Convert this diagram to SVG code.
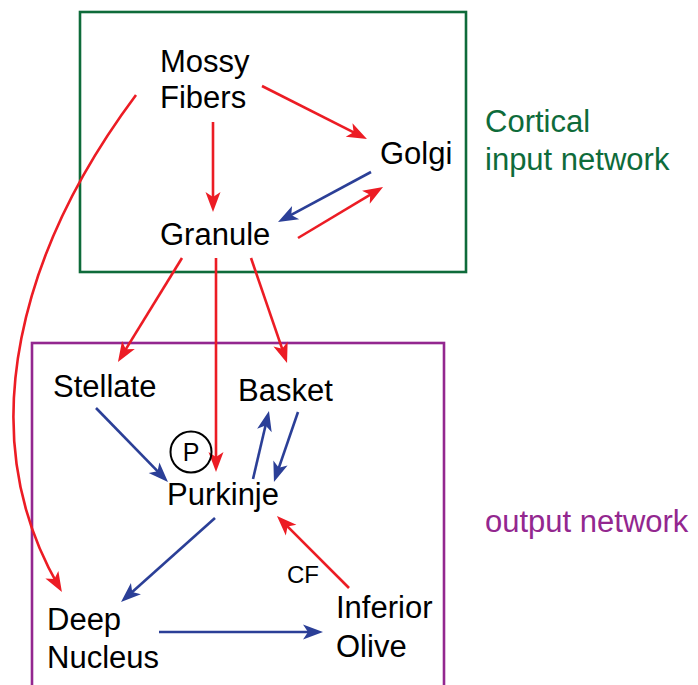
<svg xmlns="http://www.w3.org/2000/svg" width="698" height="685" viewBox="0 0 698 685">
<style>
.t{font-family:"Liberation Sans",Arial,sans-serif;font-size:31px;fill:#000}
.r{stroke:#ec1c24;stroke-width:2.6;fill:none;marker-end:url(#ar)}
.b{stroke:#2b3f97;stroke-width:2.6;fill:none;marker-end:url(#ab)}
</style>
<defs>
<marker id="ar" markerUnits="userSpaceOnUse" markerWidth="30" markerHeight="20" viewBox="-22 -10 30 20" refX="0" refY="0" orient="auto" overflow="visible">
<path d="M6,0 L-14,-7.5 L-9,0 L-14,7.5 Z" fill="#ec1c24"/>
</marker>
<marker id="ab" markerUnits="userSpaceOnUse" markerWidth="30" markerHeight="20" viewBox="-22 -10 30 20" refX="0" refY="0" orient="auto" overflow="visible">
<path d="M6,0 L-14,-7.5 L-9,0 L-14,7.5 Z" fill="#2b3f97"/>
</marker>
</defs>
<rect width="698" height="685" fill="#fff"/>
<g id="cortical-box">
<rect x="80" y="12" width="386" height="260" fill="none" stroke="#0e6b3a" stroke-width="2.6"/>
<text class="t" x="485" y="132" style="fill:#0e6b3a">Cortical</text>
<text class="t" x="485" y="170" style="fill:#0e6b3a">input network</text>
</g>
<g id="output-box">
<rect x="32" y="343" width="412" height="360" fill="none" stroke="#93278f" stroke-width="2.6"/>
<text class="t" x="485" y="532" style="fill:#93278f">output network</text>
</g>
<g id="connectors">
<line class="r" x1="262" y1="86" x2="361.6" y2="136.3"/>
<line class="r" x1="213" y1="122" x2="213" y2="206"/>
<line class="b" x1="371" y1="172" x2="283.3" y2="219.2"/>
<line class="r" x1="298" y1="238" x2="377.9" y2="190.1"/>
<path class="r" d="M136,95 C24,245 -32,430 58.9,586.8"/>
<line class="r" x1="182" y1="258" x2="121.1" y2="356.9"/>
<line class="r" x1="216" y1="258" x2="216" y2="466"/>
<line class="r" x1="251" y1="258" x2="285.1" y2="357.3"/>
<line class="b" x1="96" y1="408" x2="163.8" y2="477.7"/>
<line class="b" x1="253" y1="479" x2="267.6" y2="416.8"/>
<line class="b" x1="298" y1="412" x2="275.9" y2="476.3"/>
<line class="b" x1="215" y1="518" x2="125.5" y2="598"/>
<line class="b" x1="159" y1="632" x2="317" y2="632"/>
<line class="r" x1="349" y1="588" x2="281.2" y2="520.2"/>
<text x="287" y="583" style="font-family:'Liberation Sans',Arial,sans-serif;font-size:24px;fill:#000">CF</text>
</g>
<g id="mossy"><text class="t" x="160" y="72">Mossy</text><text class="t" x="160" y="108">Fibers</text></g>
<g id="golgi"><text class="t" x="380" y="164">Golgi</text></g>
<g id="granule"><text class="t" x="160" y="245">Granule</text></g>
<g id="stellate"><text class="t" x="53" y="397">Stellate</text></g>
<g id="basket"><text class="t" x="238" y="401">Basket</text></g>
<g id="purkinje"><text class="t" x="167" y="505">Purkinje</text></g>
<g id="p-marker"><circle cx="191" cy="452" r="20.5" fill="none" stroke="#000" stroke-width="2"/><text x="191" y="461" text-anchor="middle" style="font-family:'Liberation Sans',Arial,sans-serif;font-size:25px;fill:#000">P</text></g>
<g id="deep"><text class="t" x="47" y="630">Deep</text><text class="t" x="47" y="668">Nucleus</text></g>
<g id="olive"><text class="t" x="336" y="618">Inferior</text><text class="t" x="336" y="657">Olive</text></g>
</svg>
